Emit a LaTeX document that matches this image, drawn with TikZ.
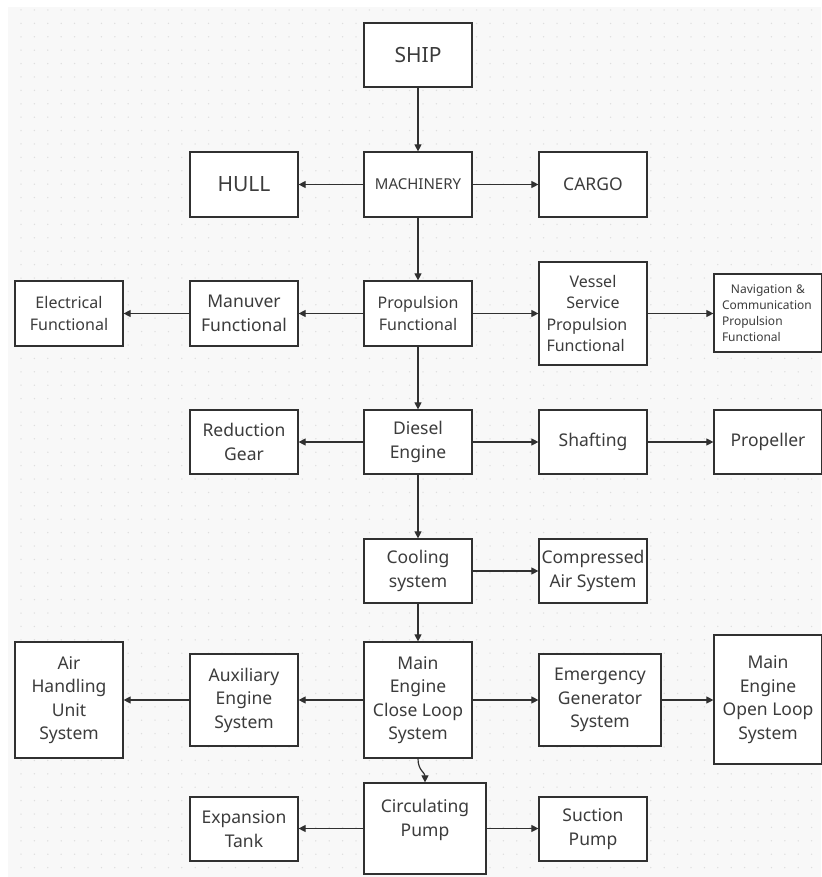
\documentclass[tikz,border=0pt]{standalone}
\usepackage{fontspec}
\setmainfont{Noto Sans}
\usetikzlibrary{arrows.meta}
\definecolor{ink}{HTML}{303030}
\definecolor{txt}{HTML}{3C3C3C}
\definecolor{canvas}{HTML}{F8F8F8}
\definecolor{dotc}{HTML}{DEDEDE}

\tikzset{
  box/.style={draw=ink, line width=1.2pt, fill=white, text=txt, align=center,
    inner sep=0pt, minimum width=108pt, minimum height=64pt},
  link/.style={draw=ink, line width=1.15pt, -{Triangle[length=7pt,width=7pt]}},
  fxs/.style={font=\fontsize{12}{16}\selectfont},
  fsm/.style={font=\fontsize{15}{20}\selectfont},
  fmd/.style={font=\fontsize{16}{21.5}\selectfont},
  fnm/.style={font=\fontsize{17.5}{23.5}\selectfont},
  flg/.style={font=\fontsize{21}{28}\selectfont},
}

\begin{document}
\begin{tikzpicture}[x=1pt,y=-1pt]
\useasboundingbox (0,0) rectangle (821,877);

% dotted canvas
\fill[white] (0,0) rectangle (821,877);
\fill[canvas] (8,7) rectangle (821,877);
\foreach \i in {0,...,60}{
  \foreach \j in {0,...,64}{
    \fill[dotc] (21+13.4*\i, 10+13.4*\j) circle (0.75pt);
  }
}

% level 1
\node[box, flg] (ship) at (418,55) {SHIP};

% level 2
\node[box, fsm, minimum height=65pt] (mach) at (418,184.5) {MACHINERY};
\node[box, flg, minimum height=65pt] (hull) at (244,184.5) {HULL};
\node[box, fnm, minimum height=65pt] (cargo) at (593,184.5) {CARGO};

% level 3
\node[box, fmd, minimum height=65pt] (prop) at (418,313.5) {Propulsion\\Functional};
\node[box, fnm, minimum height=65pt] (manu) at (244,313.5) {Manuver\\Functional};
\node[box, fmd, minimum height=65pt] (elec) at (69,313.5) {Electrical\\Functional};
\node[box, fmd, minimum height=103pt, text width=93pt, align=left] (vess) at (593,313.5)
  {\makebox[93pt]{Vessel}\\\makebox[93pt]{Service}\\Propulsion\\Functional};
\node[box, fxs, minimum height=78pt, text width=92pt, align=left] (navi) at (768,313)
  {\makebox[92pt]{Navigation \&}\\Communication\\Propulsion\\Functional};

% level 4
\node[box, fnm] (dies) at (418,442) {Diesel\\Engine};
\node[box, fnm] (redg) at (244,442) {Reduction\\Gear};
\node[box, fnm] (shaf) at (593,442) {Shafting};
\node[box, fnm] (prpl) at (768,442) {Propeller};

% level 5
\node[box, fnm] (cool) at (418,571) {Cooling\\system};
\node[box, fnm] (comp) at (593,571) {Compressed\\Air System};

% level 6
\node[box, fnm, minimum height=116pt] (mecl) at (418,700) {Main\\Engine\\Close Loop\\System};
\node[box, fnm, minimum height=92pt] (auxe) at (244,700) {Auxiliary\\Engine\\System};
\node[box, fnm, minimum height=116pt] (airh) at (69,700) {Air\\Handling\\Unit\\System};
\node[box, fnm, minimum width=122pt, minimum height=92pt] (emer) at (600,700) {Emergency\\Generator\\System};
\node[box, fnm, minimum height=129pt] (meol) at (768,699.5) {Main\\Engine\\Open Loop\\System};

% level 7
\node[box, fnm, minimum width=122pt, minimum height=91pt, text depth=21pt] (circ) at (425,828.5) {Circulating\\Pump};
\node[box, fnm] (expt) at (244,829) {Expansion\\Tank};
\node[box, fnm] (sucp) at (593,829) {Suction\\Pump};

% connectors
\draw[link] (ship) -- (mach);
\draw[link] (mach.west) -- (hull.east |- mach.west);
\draw[link] (mach.east) -- (cargo.west |- mach.east);
\draw[link] (mach) -- (prop);

\draw[link] (prop.west) -- (manu.east |- prop.west);
\draw[link] (manu.west) -- (elec.east |- manu.west);
\draw[link] (prop.east) -- (vess.west |- prop.east);
\draw[link] (vess.east) -- (navi.west |- vess.east);
\draw[link] (prop) -- (dies);

\draw[link] (dies.west) -- (redg.east |- dies.west);
\draw[link] (dies.east) -- (shaf.west |- dies.east);
\draw[link] (shaf.east) -- (prpl.west |- shaf.east);
\draw[link] (dies) -- (cool);

\draw[link] (cool.east) -- (comp.west |- cool.east);
\draw[link] (cool) -- (mecl);

\draw[link] (mecl.west) -- (auxe.east |- mecl.west);
\draw[link] (auxe.west) -- (airh.east |- auxe.west);
\draw[link] (mecl.east) -- (emer.west |- mecl.east);
\draw[link] (emer.east) -- (meol.west |- emer.east);
\draw[link] (mecl.south) .. controls +(0,12) and +(0,-10) .. (circ.north);

\draw[link] (circ.west) -- (expt.east |- circ.west);
\draw[link] (circ.east) -- (sucp.west |- circ.east);
\end{tikzpicture}
\end{document}
